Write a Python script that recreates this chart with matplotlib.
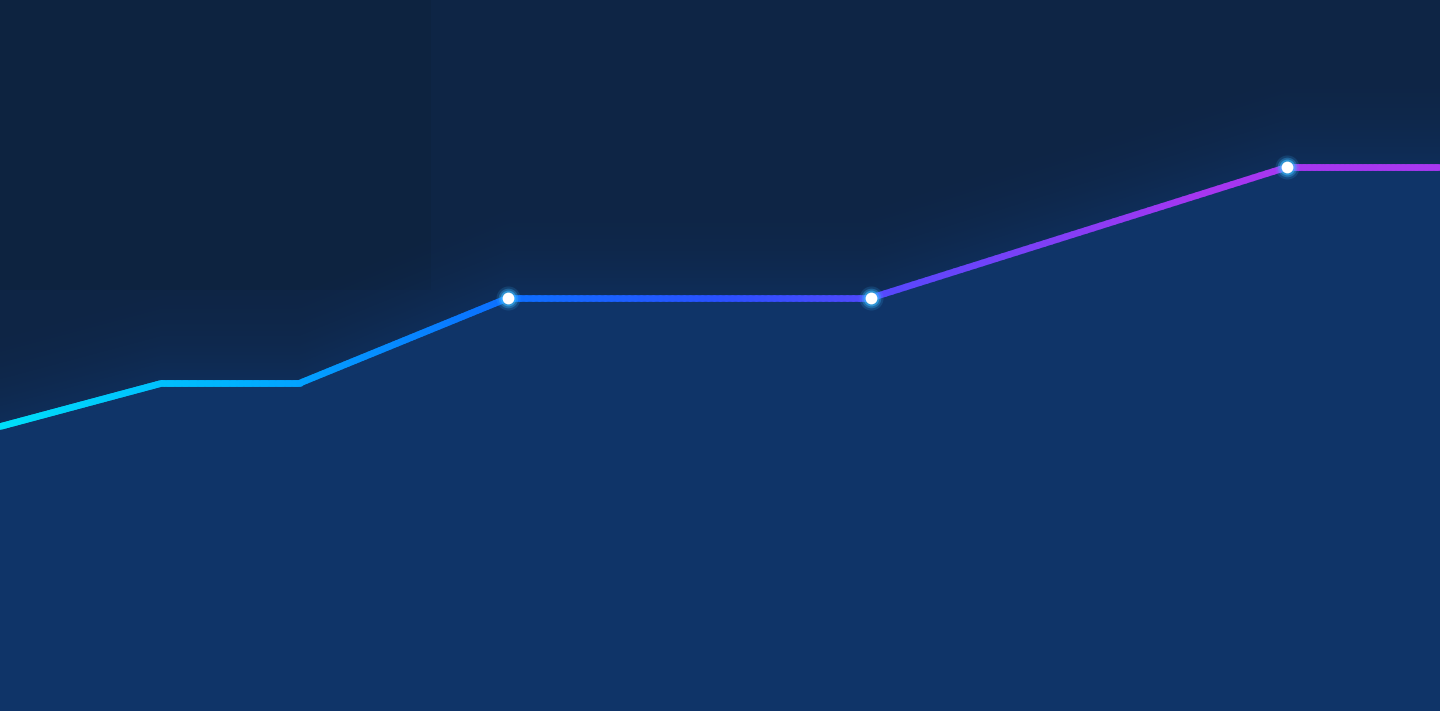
import numpy as np
import matplotlib
matplotlib.use("Agg")
import matplotlib.pyplot as plt
from matplotlib.collections import LineCollection
from matplotlib.colors import LinearSegmentedColormap, to_rgb

# Datos de la serie
x_vals = [0, 11.25, 20.8, 35.3, 60.5, 89.4, 100]
y_vals = [40, 46.1, 46.1, 58.1, 58.1, 76.5, 76.5]
marcadores = [3, 4, 5]  # índices con punto blanco

bg_color = "#0e2545"
fill_color = "#0f3468"
line_cmap = LinearSegmentedColormap.from_list(
    "linea", ["#00e0fa", "#00b0ff", "#0a74ff", "#2a50ff", "#6a44fa", "#a636f0", "#a838f0"])

fig = plt.figure(figsize=(14.4, 7.11), dpi=100)
ax = fig.add_axes([0, 0, 1, 1])
fig.patch.set_facecolor(bg_color)
ax.set_facecolor(bg_color)
ax.set_xlim(0, 100)
ax.set_ylim(0, 100)
ax.axis("off")

# rectángulo oscuro arriba a la izquierda
ax.add_patch(plt.Rectangle((0, 59.2), 29.9, 40.8, color="#0d2340", zorder=0, lw=0))

# relleno con resplandor encima de la línea
gx = np.linspace(0, 100, 720)
gy = np.linspace(0, 100, 711)
GX, GY = np.meshgrid(gx, gy)
linea = np.interp(GX, x_vals, y_vals)
d = GY - linea
alpha = np.where(d <= 0, 1.0, 0.6 * np.clip(1 - d / 16.0, 0, 1) ** 2.0)
img = np.zeros(GX.shape + (4,))
img[..., :3] = to_rgb(fill_color)
img[..., 3] = alpha
ax.imshow(img, extent=(0, 100, 0, 100), origin="lower", aspect="auto", zorder=1,
          interpolation="bilinear")

# línea con degradado de color
xs, ys = [], []
for i in range(len(x_vals) - 1):
    t = np.linspace(0, 1, 60, endpoint=False)
    xs.extend(x_vals[i] + t * (x_vals[i + 1] - x_vals[i]))
    ys.extend(y_vals[i] + t * (y_vals[i + 1] - y_vals[i]))
xs.append(x_vals[-1])
ys.append(y_vals[-1])
pts = np.array([xs, ys]).T.reshape(-1, 1, 2)
segs = np.concatenate([pts[:-1], pts[1:]], axis=1)
lc = LineCollection(segs, cmap=line_cmap, norm=plt.Normalize(0, 100),
                    linewidths=4.8, capstyle="round", joinstyle="round", zorder=3)
lc.set_array(np.array(xs[:-1]))
ax.add_collection(lc)

# puntos con brillo
mx = [x_vals[i] for i in marcadores]
my = [y_vals[i] for i in marcadores]
for s, a in [(300, 0.15), (200, 0.3), (130, 0.55)]:
    ax.scatter(mx, my, s=s, color="#3ab8ff", alpha=a, lw=0, zorder=4)
ax.scatter(mx, my, s=72, color="white", lw=0, zorder=5)

fig.savefig("out.png", dpi=100, facecolor=bg_color)
